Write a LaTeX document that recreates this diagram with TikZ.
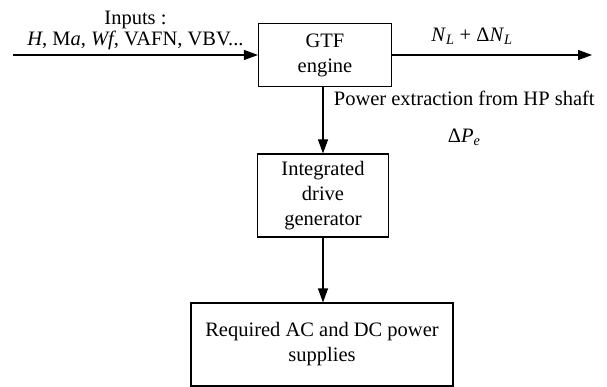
\documentclass[tikz,border=0pt]{standalone}
\usepackage{fontspec}
\setmainfont{Liberation Serif}
\usetikzlibrary{arrows.meta}
\newcommand{\isub}[2]{\textit{#1}\textsubscript{\textit{#2}}}
\begin{document}
\begin{tikzpicture}[x=1pt, y=-1pt, >={Triangle[length=14pt, width=10pt]},
    font=\fontsize{20.5}{25}\selectfont,
    blok/.style={draw, line width=1.1pt, align=center, inner sep=0pt}]
    \useasboundingbox (0,0) rectangle (607,387);
    \node[blok, minimum width=133pt, minimum height=63pt] (gtf) at (325,55) {GTF\\engine};
    \node[blok, minimum width=131pt, minimum height=83pt] (idg) at (323,195.5) {Integrated\\drive\\generator};
    \node[blok, minimum width=262pt, minimum height=83pt] (supply) at (322,344.5) {Required AC and DC power\\supplies};
    \coordinate (in) at (13,55);
    \coordinate (out) at (592,55);
    % inputs and output
    \draw[->, line width=1.1pt] (in) -- (gtf.west)
        node[midway, above=1pt, align=center, font=\fontsize{20.5}{21}\selectfont] {Inputs :\\\textit{H}, M\textit{a}, \textit{Wf}, VAFN, VBV...};
    \draw[->, line width=1.1pt] (gtf.east) -- (out)
        node[pos=0.4, above=7pt] {\isub{N}{L} + Δ\isub{N}{L}};
    % power extraction
    \draw[->, line width=1.1pt] (idg.north |- gtf.south) -- (idg.north)
        node[pos=0, right=7pt, align=center, anchor=north west] {Power extraction from HP shaft\\[12pt]Δ\isub{P}{e}};
    \draw[->, line width=1.1pt] (idg.south) -- (idg.south |- supply.north);
\end{tikzpicture}
\end{document}
